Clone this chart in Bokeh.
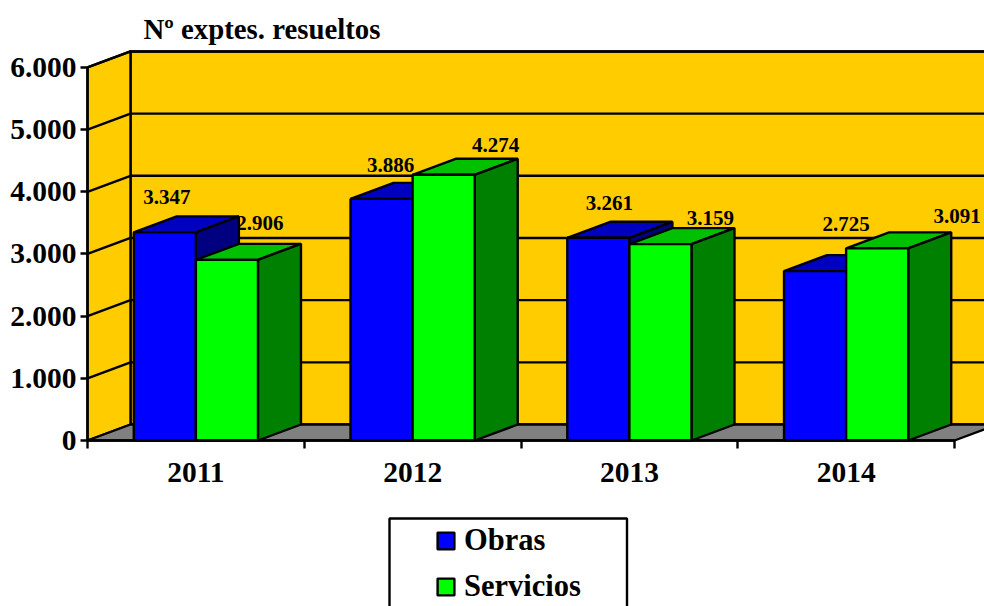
from bokeh.plotting import figure
from bokeh.models import (FixedTicker, Legend, LegendItem, BoxAnnotation)
from bokeh.embed import file_html
from bokeh.resources import INLINE
from bokeh.core.properties import value

categories = ["2011", "2012", "2013", "2014"]
obras = [3347, 3886, 3261, 2725]
servicios = [2906, 4274, 3159, 3091]
y_ticks = [0, 1000, 2000, 3000, 4000, 5000, 6000]
y_labels = ["0", "1.000", "2.000", "3.000", "4.000", "5.000", "6.000"]
title_text = "Nº exptes. resueltos"

SERIF = "Liberation Serif"
LW = 2.4
X0 = 87            # px of the value axis
PX_X = 216.75      # px per category
PX_Y = 0.06217     # px per unit
DX = 43 / PX_X     # depth in x
DY = 16 / PX_Y     # depth in y
BAR = 0.2865
X_END = (984 - X0) / PX_X
Y_END = 395 / PX_Y

p = figure(width=984, height=606, output_backend="svg", toolbar_location=None,
           x_range=(-X0 / PX_X, X_END), y_range=(-166 / PX_Y, Y_END),
           min_border_left=0, min_border_right=0, min_border_top=45, min_border_bottom=0,
           outline_line_color=None, background_fill_color="white", border_fill_color="white")
p.xgrid.visible = False
p.ygrid.visible = False

p.title.text = title_text
p.title.text_font = SERIF
p.title.text_font_size = "28.8px"
p.title.text_font_style = "bold"
p.title.text_color = "black"
p.title.align = "left"
p.title.offset = 143
p.title.standoff = 2

# axes
ya = p.yaxis[0]
ya.fixed_location = 0
ya.ticker = FixedTicker(ticks=y_ticks)
ya.major_label_overrides = {t: l for t, l in zip(y_ticks, y_labels)}
ya.bounds = (0, 6000)
ya.major_tick_in = 0
ya.major_tick_out = 7
ya.minor_tick_line_color = None
ya.axis_line_width = LW
ya.major_tick_line_width = LW
ya.major_label_standoff = 4
ya.major_label_text_font = SERIF
ya.major_label_text_font_size = "29.5px"
ya.major_label_text_font_style = "bold"
ya.major_label_text_color = "black"

xa = p.xaxis[0]
xa.fixed_location = 0
centers = [i + 0.5 for i in range(len(categories))]
xa.ticker = FixedTicker(ticks=centers, minor_ticks=list(range(len(categories) + 1)))
xa.major_label_overrides = {c: l for c, l in zip(centers, categories)}
xa.bounds = (0, len(categories))
xa.major_tick_in = 0
xa.major_tick_out = 0
xa.minor_tick_in = 0
xa.minor_tick_out = 8
xa.minor_tick_line_width = LW
xa.minor_tick_line_color = "black"
xa.axis_line_width = LW
xa.major_label_standoff = 14
xa.major_label_text_font = SERIF
xa.major_label_text_font_size = "29.5px"
xa.major_label_text_font_style = "bold"
xa.major_label_text_color = "black"

# walls and floor
n = len(categories)
wall = "#FFCC00"
p.patch([DX, X_END + 1, X_END + 1, DX], [DY, DY, 6000 + DY, 6000 + DY],
        fill_color=wall, line_color="black", line_width=LW)
p.patch([0, DX, DX, 0], [0, DY, 6000 + DY, 6000], fill_color=wall, line_color="black", line_width=LW)
p.patch([0, n, n + DX, X_END + 1, X_END + 1, DX], [0, 0, DY, DY, DY, DY],
        fill_color="#808080", line_color="black", line_width=LW)
for v in y_ticks[1:]:
    p.line([0, DX, X_END + 1], [v, v + DY, v + DY], line_color="black", line_width=LW)

# value labels (behind the bars, as in the reference)
label_dx = [2, 9, 11, 31, 33, 52, 50, 80]
label_dy = [35, 34, 35, 47, 37, 30, 26, 32]
vals = obras + servicios
lx = [i + 0.5 - BAR / 2 for i in range(n)] + [i + 0.5 + BAR / 2 for i in range(n)]
p.text(x=lx, y=vals, text=[f"{v:,}".replace(",", ".") for v in vals],
       x_offset=label_dx, y_offset=[-d for d in label_dy],
       text_align="center", text_baseline="middle", text_color="black",
       text_font=value(SERIF), text_font_style="bold", text_font_size="21px")


def bars(values, left_off, front, top, side):
    xs_top, ys_top, xs_side, ys_side = [], [], [], []
    lefts, rights = [], []
    for i, v in enumerate(values):
        l = i + 0.5 + left_off
        r = l + BAR
        lefts.append(l)
        rights.append(r)
        xs_top.append([l, r, r + DX, l + DX])
        ys_top.append([v, v, v + DY, v + DY])
        xs_side.append([r, r + DX, r + DX, r])
        ys_side.append([0, DY, v + DY, v])
    p.patches(xs_top, ys_top, fill_color=top, line_color="black", line_width=LW)
    p.patches(xs_side, ys_side, fill_color=side, line_color="black", line_width=LW)
    return p.quad(left=lefts, right=rights, bottom=[0] * n, top=values,
                  fill_color=front, line_color="black", line_width=LW)


r_o = bars(obras, -BAR, "#0000FF", "#0000C0", "#000080")
r_s = bars(servicios, 0, "#00FF00", "#00C000", "#008000")

# legend: frame box in data space, entries from Bokeh's Legend
box = BoxAnnotation(left=(389 - X0) / PX_X, right=(626.5 - X0) / PX_X,
                    top=(440 - 518) / PX_Y, bottom=(440 - 620) / PX_Y,
                    fill_color="white", fill_alpha=1, line_color="black", line_alpha=1, line_width=LW)
p.add_layout(box)
legend = Legend(items=[LegendItem(label="Obras", renderers=[r_o]),
                       LegendItem(label="Servicios", renderers=[r_s])],
                location=(435, 2), padding=0, margin=0, spacing=11,
                glyph_width=21, glyph_height=21, label_standoff=8, label_height=21,
                border_line_color=None, background_fill_alpha=0,
                label_text_font=SERIF, label_text_font_size="30.5px", label_text_font_style="bold",
                label_text_color="black", level="overlay")
p.add_layout(legend, "center")

open("out.html", "w").write(file_html(p, INLINE))
